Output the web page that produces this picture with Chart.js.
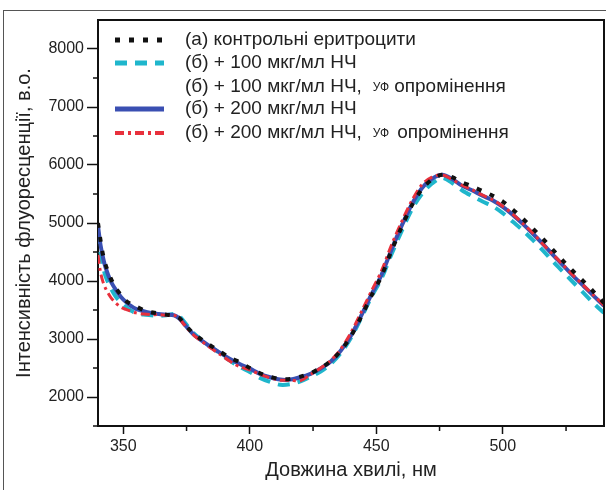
<!DOCTYPE html>
<html lang="uk">
<head>
  <meta charset="UTF-8" />
  <title>Спектри флуоресценції еритроцитів</title>
  <script src="https://cdn.jsdelivr.net/npm/chart.js"></script>
  <style>
    body { margin: 0; background: #fff; }
    #wrap { position: relative; width: 606px; height: 490px; overflow: hidden; }
    #frame {
      position: absolute; left: 3px; top: 10px; width: 620px; height: 500px;
      border-left: 1px solid #555; border-top: 1px solid #555;
    }
    canvas { position: absolute; left: 0; top: 0; }
  </style>
</head>
<body>
  <div id="wrap">
    <div id="frame"></div>
    <canvas id="spectraChart" width="606" height="490"></canvas>
  </div>

  <script>
    // довжина хвилі, нм
    const wavelengths = [340, 341, 342, 343, 345, 347, 349, 351, 353, 355, 358, 361, 364, 367, 370, 372, 374, 376, 378, 381,
      384, 388, 392, 396, 400, 404, 408, 412, 416, 420, 424, 428, 432, 436, 440, 444, 448, 452, 456, 460,
      464, 468, 472, 476, 480, 484, 488, 492, 496, 500, 504, 508, 512, 516, 520, 524, 528, 532, 536, 540];

    // (а) контрольні еритроцити
    const control = [5000, 4700, 4450, 4280, 4050, 3880, 3760, 3660, 3600, 3560, 3500, 3460, 3440, 3420, 3400, 3370, 3270, 3170, 3080, 2990,
      2900, 2790, 2680, 2600, 2500, 2410, 2350, 2310, 2310, 2350, 2410, 2500, 2620, 2800, 3050, 3380, 3740, 4080, 4520, 4930,
      5300, 5580, 5750, 5830, 5790, 5700, 5630, 5550, 5470, 5370, 5230, 5070, 4900, 4720, 4530, 4340, 4160, 3990, 3810, 3620];

    // (б) + 100 мкг/мл НЧ
    const np100 = [4850, 4500, 4250, 4080, 3880, 3730, 3630, 3550, 3490, 3450, 3420, 3410, 3400, 3410, 3430, 3400, 3300, 3190, 3090, 2980,
      2880, 2760, 2630, 2520, 2430, 2330, 2260, 2210, 2220, 2270, 2350, 2440, 2570, 2760, 3020, 3360, 3720, 4040, 4460, 4860,
      5230, 5500, 5680, 5780, 5690, 5560, 5460, 5370, 5290, 5170, 5020, 4870, 4700, 4520, 4330, 4150, 3970, 3790, 3610, 3450];

    // (б) + 200 мкг/мл НЧ
    const np200 = [4950, 4620, 4400, 4230, 4000, 3850, 3730, 3640, 3570, 3520, 3480, 3450, 3430, 3420, 3410, 3360, 3260, 3160, 3070, 2970,
      2880, 2770, 2660, 2570, 2490, 2400, 2340, 2300, 2300, 2340, 2400, 2490, 2610, 2800, 3060, 3400, 3760, 4100, 4540, 4950,
      5320, 5600, 5760, 5830, 5760, 5640, 5560, 5470, 5390, 5280, 5140, 4980, 4810, 4630, 4440, 4260, 4080, 3910, 3740, 3570];

    // (б) + 200 мкг/мл НЧ, УФ опромінення
    const np200uv = [4450, 4150, 3980, 3870, 3720, 3620, 3550, 3510, 3480, 3450, 3430, 3420, 3420, 3410, 3410, 3360, 3250, 3150, 3060, 2960,
      2860, 2740, 2620, 2520, 2470, 2390, 2330, 2290, 2290, 2280, 2390, 2500, 2630, 2830, 3110, 3460, 3820, 4170, 4620, 5020,
      5380, 5660, 5790, 5830, 5750, 5650, 5570, 5480, 5400, 5290, 5150, 4990, 4820, 4630, 4450, 4270, 4090, 3920, 3750, 3580];

    const xTicks = [350, 375, 400, 425, 450, 475, 500, 525];
    const yTicks = [1500, 2000, 2500, 3000, 3500, 4000, 4500, 5000, 5500, 6000, 6500, 7000, 7500, 8000];

    const legendLabels = [
      '(а) контрольні еритроцити',
      '(б) + 100 мкг/мл НЧ',
      '(б) + 100 мкг/мл НЧ,',
      '(б) + 200 мкг/мл НЧ',
      '(б) + 200 мкг/мл НЧ,'
    ];
    const legendUv = [false, false, true, false, true];
    // який набір даних показує зразок лінії (null - без зразка)
    const legendDataset = [0, 1, null, 2, 3];

    const FONT = '"Liberation Sans", Arial, sans-serif';

    const toPoints = ys => wavelengths.map((x, i) => ({ x: x, y: ys[i] }));

    const datasets = [
      { label: legendLabels[0], data: toPoints(control), borderColor: '#111', borderWidth: 4, borderDash: [5, 9], order: 0 },
      { label: legendLabels[1], data: toPoints(np100), borderColor: '#1fb6cc', borderWidth: 4, borderDash: [12, 8], order: 3 },
      { label: legendLabels[3], data: toPoints(np200), borderColor: '#3a4fb2', borderWidth: 4, order: 2 },
      { label: legendLabels[4], data: toPoints(np200uv), borderColor: '#e8303c', borderWidth: 3, borderDash: [9, 4, 3, 4], order: 1 }
    ];
    datasets.forEach(d => {
      d.pointRadius = 0;
      d.fill = false;
      d.tension = 0.3;
      d.borderCapStyle = 'butt';
    });

    // рамка навколо області графіка, малі штрихи і легенда
    const extras = {
      id: 'extras',
      afterDraw(chart) {
        const { ctx, chartArea: a } = chart;
        ctx.save();
        ctx.strokeStyle = '#111';
        ctx.lineWidth = 2;
        ctx.beginPath();
        ctx.moveTo(a.left, a.top);
        ctx.lineTo(a.right, a.top);
        ctx.lineTo(a.right, a.bottom);
        ctx.stroke();

        // малі штрихи
        ctx.lineWidth = 1.5;
        ctx.beginPath();
        chart.scales.x.ticks.forEach(t => {
          if (t.value % 50 !== 0) {
            const px = chart.scales.x.getPixelForValue(t.value);
            ctx.moveTo(px, a.bottom);
            ctx.lineTo(px, a.bottom + 5);
          }
        });
        chart.scales.y.ticks.forEach(t => {
          if (t.value % 1000 !== 0) {
            const py = chart.scales.y.getPixelForValue(t.value);
            ctx.moveTo(a.left, py);
            ctx.lineTo(a.left - 5, py);
          }
        });
        ctx.stroke();

        // легенда
        const rowY = [40, 63, 87, 109, 133];
        legendLabels.forEach((text, i) => {
          const y = rowY[i];
          const di = legendDataset[i];
          if (di !== null) {
            const ds = chart.data.datasets[di];
            ctx.strokeStyle = ds.borderColor;
            ctx.lineWidth = ds.borderWidth + 1;
            ctx.setLineDash(ds.borderDash || []);
            ctx.lineCap = 'butt';
            ctx.beginPath();
            ctx.moveTo(115, y);
            ctx.lineTo(164, y);
            ctx.stroke();
            ctx.setLineDash([]);
          }
          ctx.fillStyle = '#222';
          ctx.textBaseline = 'middle';
          ctx.font = '19px ' + FONT;
          ctx.fillText(text, 185, y);
          if (legendUv[i]) {
            let x = 185 + ctx.measureText(text).width + 11;
            ctx.font = '12px ' + FONT;
            ctx.fillText('УФ', x, y + 1);
            x += ctx.measureText('УФ').width + (i === 4 ? 8 : 5);
            ctx.font = '19px ' + FONT;
            ctx.fillText('опромінення', x, y);
          }
        });
        ctx.restore();
      }
    };

    new Chart(document.getElementById('spectraChart'), {
      type: 'line',
      data: { datasets: datasets },
      options: {
        responsive: false,
        animation: false,
        layout: { padding: { left: 0, top: 20, right: 2, bottom: 0 } },
        plugins: { legend: { display: false }, tooltip: { enabled: false } },
        scales: {
          x: {
            type: 'linear',
            min: 340,
            max: 540,
            afterBuildTicks: s => { s.ticks = xTicks.map(v => ({ value: v })); },
            afterFit: s => { s.height = 64; },
            border: { color: '#111', width: 2 },
            grid: {
              drawOnChartArea: false,
              tickLength: 8,
              tickWidth: 1.5,
              tickColor: c => (c.tick && c.tick.value % 50 === 0 ? '#111' : 'transparent')
            },
            ticks: {
              autoSkip: false,
              maxRotation: 0,
              padding: 3,
              color: '#222',
              font: { family: FONT, size: 16 },
              callback: v => (v % 50 === 0 ? v : '')
            },
            title: {
              display: true,
              text: 'Довжина хвилі, нм',
              color: '#222',
              font: { family: FONT, size: 20 },
              padding: { top: 0, bottom: 8 }
            }
          },
          y: {
            type: 'linear',
            min: 1500,
            max: 8500,
            afterBuildTicks: s => { s.ticks = yTicks.map(v => ({ value: v })); },
            afterFit: s => { s.width = 98; },
            border: { color: '#111', width: 2 },
            grid: {
              drawOnChartArea: false,
              tickLength: 11,
              tickWidth: 1.5,
              tickColor: c => (c.tick && c.tick.value % 1000 === 0 ? '#111' : 'transparent')
            },
            ticks: {
              autoSkip: false,
              padding: 3,
              color: '#222',
              font: { family: FONT, size: 16 },
              callback: v => (v % 1000 === 0 ? v : '')
            },
            title: {
              display: true,
              text: 'Інтенсивність флуоресценції, в.о.',
              color: '#222',
              font: { family: FONT, size: 20 },
              padding: { top: 12, bottom: 0 }
            }
          }
        }
      },
      plugins: [extras]
    });
  </script>
</body>
</html>
